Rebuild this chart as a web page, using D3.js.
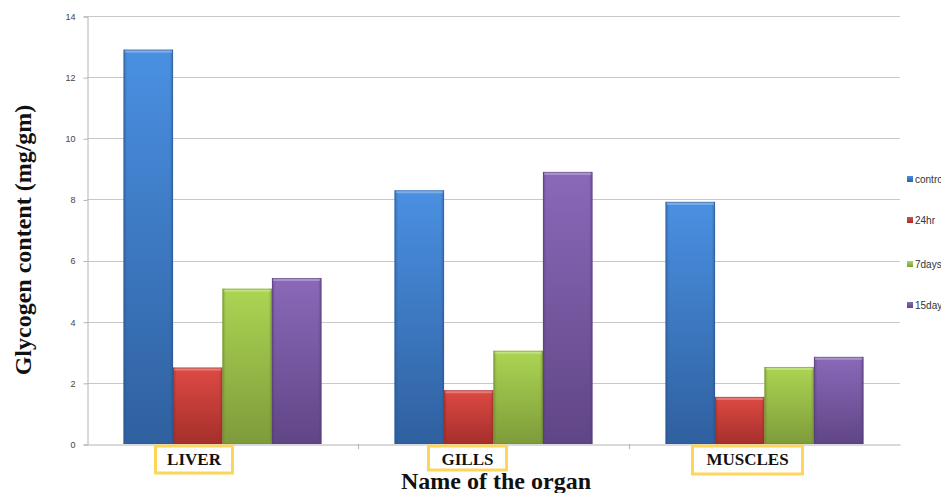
<!DOCTYPE html>
<html>
<head>
<meta charset="utf-8">
<script src="https://cdn.jsdelivr.net/npm/d3@7"></script>
<style>
  html, body { margin: 0; padding: 0; background: #fff; overflow: hidden; }
  svg { display: block; }
</style>
</head>
<body>
<svg id="chart" width="941" height="493"></svg>
<script>
// Glycogen content per organ at each exposure period
const organs = ["LIVER", "GILLS", "MUSCLES"];
const seriesNames = ["control", "24hr", "7days", "15days"];
const control = [12.9, 8.3, 7.92];
const hr24 = [2.5, 1.76, 1.54];
const days7 = [5.08, 3.05, 2.52];
const days15 = [5.43, 8.9, 2.85];
const yTicks = [0, 2, 4, 6, 8, 10, 12, 14];

const seriesValues = [control, hr24, days7, days15];
const palette = [
  { top: "#4a90e2", bottom: "#2f609f", edge: "#2a5790" },
  { top: "#de4a44", bottom: "#a52f2b", edge: "#942a27" },
  { top: "#acd553", bottom: "#7e9b3a", edge: "#6f8a32" },
  { top: "#8a69b9", bottom: "#604586", edge: "#553d78" }
];

const svg = d3.select("#chart");
const margin = { left: 87, right: 41, top: 16, bottom: 49 };
const W = 941, H = 493;
const x0 = margin.left, x1 = W - margin.right;
const yTop = margin.top, yBottom = H - margin.bottom;

const x = d3.scaleBand().domain(organs).range([x0, x1]).paddingInner(0).paddingOuter(0);
const xs = d3.scaleBand().domain(seriesNames).range([0, x.bandwidth()]).paddingInner(0).paddingOuter(0.74);
const y = d3.scaleLinear().domain([0, 14]).range([yBottom, yTop]);

// gradients
const defs = svg.append("defs");
palette.forEach((p, i) => {
  const g = defs.append("linearGradient").attr("id", "grad" + i)
    .attr("x1", 0).attr("y1", 0).attr("x2", 0).attr("y2", 1);
  g.append("stop").attr("offset", "0%").attr("stop-color", p.top);
  g.append("stop").attr("offset", "100%").attr("stop-color", p.bottom);
  const h = defs.append("linearGradient").attr("id", "side" + i)
    .attr("x1", 0).attr("y1", 0).attr("x2", 1).attr("y2", 0);
  h.append("stop").attr("offset", "0%").attr("stop-color", p.edge).attr("stop-opacity", 0.55);
  h.append("stop").attr("offset", "7%").attr("stop-color", p.edge).attr("stop-opacity", 0);
  h.append("stop").attr("offset", "93%").attr("stop-color", p.edge).attr("stop-opacity", 0);
  h.append("stop").attr("offset", "100%").attr("stop-color", p.edge).attr("stop-opacity", 0.55);
});

// gridlines
svg.append("g").selectAll("line").data(yTicks.slice(1)).join("line")
  .attr("x1", x0).attr("x2", x1)
  .attr("y1", d => Math.round(y(d)) + 0.5).attr("y2", d => Math.round(y(d)) + 0.5)
  .attr("stroke", "#c8c8c8").attr("stroke-width", 1);

// y axis
const yAxis = d3.axisLeft(y).tickValues(yTicks).tickSize(4).tickPadding(8).tickFormat(d3.format("d"));
const gy = svg.append("g").attr("transform", `translate(${x0 + 0.5},0.5)`).call(yAxis);
gy.select(".domain").attr("stroke", "#b4b4b4");
gy.selectAll(".tick line").attr("stroke", "#b4b4b4");
gy.selectAll(".tick text").attr("fill", "#444").style("font-family", "Liberation Sans, Arial, sans-serif").style("font-size", "9px");

// x axis
const xAxis = d3.axisBottom(x).tickSize(0).tickFormat("");
const gx = svg.append("g").attr("transform", `translate(0,${Math.round(yBottom) + 0.5})`).call(xAxis);
gx.select(".domain").attr("stroke", "#b4b4b4");
// category separators
svg.append("g").selectAll("line").data(organs.slice(1)).join("line")
  .attr("x1", d => Math.round(x(d)) + 0.5).attr("x2", d => Math.round(x(d)) + 0.5)
  .attr("y1", yBottom).attr("y2", yBottom + 5)
  .attr("stroke", "#b4b4b4");

// bars
organs.forEach((org, oi) => {
  const g = svg.append("g").attr("transform", `translate(${x(org)},0)`);
  seriesNames.forEach((s, si) => {
    const v = seriesValues[si][oi];
    const bx = xs(s), bw = xs.bandwidth();
    const by = y(v), bh = y(0) - y(v);
    g.append("rect").attr("x", bx).attr("y", by).attr("width", bw).attr("height", bh)
      .attr("fill", `url(#grad${si})`);
    g.append("rect").attr("x", bx).attr("y", by).attr("width", bw).attr("height", bh)
      .attr("fill", `url(#side${si})`);
    // bevelled top
    g.append("rect").attr("x", bx + 1).attr("y", by).attr("width", bw - 2).attr("height", 3)
      .attr("fill", "#fff").attr("opacity", 0.28);
    g.append("rect").attr("x", bx + 0.5).attr("y", by + 0.5).attr("width", bw - 1).attr("height", bh - 1)
      .attr("fill", "none").attr("stroke", palette[si].edge).attr("stroke-opacity", 0.5).attr("stroke-width", 1);
  });
});

// category labels in highlighted boxes
const labelBoxes = [
  { dx: -28.5, w: 77, h: 27 },
  { dx: -26, w: 78, h: 24 },
  { dx: -17, w: 110, h: 28 }
];
organs.forEach((org, oi) => {
  const b = labelBoxes[oi];
  const cx = x(org) + x.bandwidth() / 2 + b.dx;
  svg.append("rect").attr("x", cx - b.w / 2).attr("y", 446).attr("width", b.w).attr("height", b.h)
    .attr("fill", "#fff").attr("stroke", "#fdd55a").attr("stroke-width", 3);
  svg.append("text").attr("x", cx).attr("y", 465).attr("text-anchor", "middle")
    .style("font-family", "Liberation Serif, Times New Roman, serif").style("font-weight", "bold")
    .style("font-size", "17px").attr("fill", "#111").text(org);
});

// axis titles
svg.append("text").attr("x", 496).attr("y", 489).attr("text-anchor", "middle")
  .style("font-family", "Liberation Serif, Times New Roman, serif").style("font-weight", "bold")
  .style("font-size", "24px").attr("fill", "#111").text("Name of the organ");
svg.append("text").attr("transform", "translate(31,240) rotate(-90)").attr("text-anchor", "middle")
  .style("font-family", "Liberation Serif, Times New Roman, serif").style("font-weight", "bold")
  .style("font-size", "24px").attr("fill", "#111").text("Glycogen content (mg/gm)");

// legend (entries run past the right edge of the page)
const legendY = [180, 221, 265, 306];
const lg = svg.append("g");
seriesNames.forEach((s, si) => {
  lg.append("rect").attr("x", 907).attr("y", legendY[si] - 4).attr("width", 6).attr("height", 6)
    .attr("fill", `url(#grad${si})`);
  lg.append("text").attr("x", 915).attr("y", legendY[si] + 2.5)
    .style("font-family", "Liberation Sans, Arial, sans-serif").style("font-size", "10px")
    .attr("fill", "#333").text(s);
});
</script>
</body>
</html>
